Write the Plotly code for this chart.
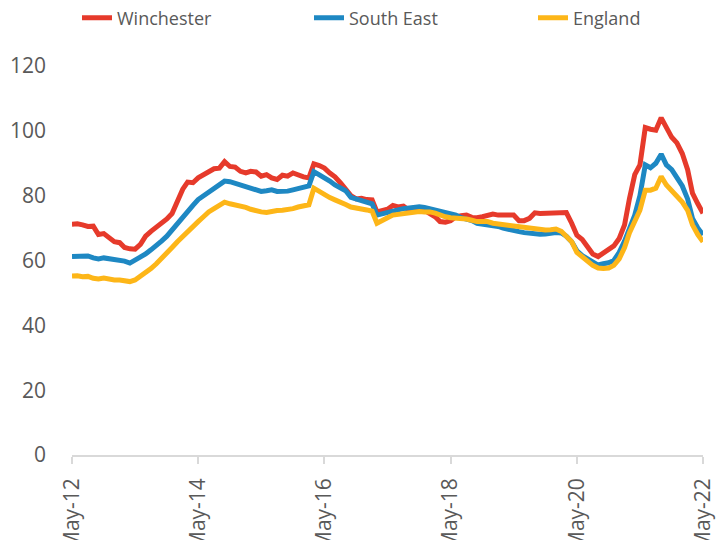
import pandas as pd
import plotly.graph_objects as go

# Monthly dates May-12 .. May-22
months = pd.date_range("2012-05-01", periods=121, freq="MS")
tick_dates = ["2012-05-01", "2014-05-01", "2016-05-01", "2018-05-01", "2020-05-01", "2022-05-01"]
tick_labels = ["May-12", "May-14", "May-16", "May-18", "May-20", "May-22"]
y_ticks = [0, 20, 40, 60, 80, 100, 120]

winchester = [
    71.2, 71.3, 71.0, 70.5, 70.6, 68.0, 68.3, 67.0, 65.8, 65.5,
    64.0, 63.6, 63.5, 65.0, 67.5, 69.0, 70.2, 71.5, 72.8, 74.5,
    78.0, 82.0, 84.2, 84.0, 85.5, 86.5, 87.5, 88.3, 88.5, 90.5,
    89.0, 88.8, 87.5, 87.0, 87.5, 87.3, 86.0, 86.5, 85.5, 85.0,
    86.3, 86.0, 87.0, 86.3, 85.8, 85.5, 89.8, 89.3, 88.5, 87.0,
    85.8, 84.0, 82.0, 80.0, 79.0, 79.2, 78.8, 78.7, 75.0, 75.3,
    75.8, 77.0, 76.5, 76.8, 75.6, 75.8, 76.2, 75.5, 74.7, 73.5,
    72.0, 71.8, 72.3, 73.5, 73.8, 74.0, 73.3, 73.2, 73.5, 74.0,
    74.3, 74.0, 74.0, 73.8, 74.0, 72.3, 72.3, 73.0, 74.7, 74.5,
    74.6, 74.4, 74.7, 74.6, 74.8, 71.5, 67.8, 66.5, 64.0, 62.0,
    61.2, 62.3, 63.8, 64.5, 66.8, 71.0, 79.0, 86.5, 89.5, 101.0,
    100.5, 100.2, 104.0, 101.0, 98.0, 96.3, 93.0, 88.0, 80.8, 77.5,
    74.6,
]
south_east = [
    61.2, 61.3, 61.2, 61.4, 60.8, 60.5, 60.8, 60.6, 60.3, 60.3,
    59.8, 59.2, 60.0, 61.0, 62.0, 63.3, 64.5, 66.0, 67.5, 69.5,
    71.5, 73.5, 75.3, 77.0, 78.8, 80.0, 81.3, 82.3, 83.3, 84.5,
    84.3, 83.8, 83.5, 83.0, 82.5, 82.0, 81.3, 81.5, 81.8, 81.3,
    81.2, 81.4, 81.8, 82.2, 82.5, 83.0, 87.4, 86.5, 85.4, 84.5,
    83.3, 82.5, 81.5, 79.5, 79.0, 78.7, 78.0, 77.5, 74.0, 74.5,
    75.0, 75.3, 75.6, 76.0, 76.2, 76.4, 76.6, 76.4, 76.0, 75.6,
    75.0, 74.6, 74.3, 74.0, 73.2, 72.8, 72.3, 71.5, 71.3, 71.0,
    70.8, 70.5, 70.0, 69.5, 69.0, 68.9, 68.6, 68.4, 68.3, 68.1,
    68.2, 68.5, 68.6, 68.5, 67.5, 65.8, 63.0, 61.5, 60.5, 59.3,
    58.6, 59.0, 59.3, 60.0, 62.5, 66.0, 70.0, 74.0, 80.0, 89.5,
    88.6, 90.0, 92.8, 89.5, 88.0, 85.5, 83.0, 79.0, 73.0, 70.0,
    67.9,
]
england = [
    55.2, 55.3, 55.0, 55.1, 54.5, 54.3, 54.6, 54.2, 54.0, 54.0,
    53.8, 53.5, 54.0, 55.2, 56.0, 57.5, 59.0, 60.5, 62.2, 64.0,
    65.8, 67.5, 69.0, 70.5, 72.0, 73.5, 75.0, 76.0, 77.0, 78.0,
    77.5, 77.2, 76.8, 76.4, 75.8, 75.3, 75.0, 74.8, 75.2, 75.4,
    75.5, 75.6, 76.0, 76.5, 77.0, 77.2, 82.3, 81.2, 80.2, 79.4,
    78.7, 78.2, 77.3, 76.5, 76.0, 75.9, 75.6, 75.2, 71.5, 72.5,
    73.2, 74.0, 74.2, 74.3, 74.8, 75.0, 75.1, 75.0, 75.0, 74.6,
    74.0, 73.5, 73.2, 73.1, 73.0, 72.8, 72.4, 72.0, 72.0, 72.0,
    71.5, 71.3, 71.0, 70.6, 70.5, 70.3, 70.1, 70.0, 69.7, 69.5,
    69.4, 69.5, 69.7, 69.0, 67.5, 65.8, 62.5, 61.0, 59.8, 58.5,
    57.7, 57.5, 57.7, 58.5, 60.5, 64.0, 68.5, 72.5, 75.5, 81.7,
    81.7, 82.3, 85.9, 83.3, 81.5, 79.7, 78.0, 75.5, 71.0, 68.0,
    65.8,
]

series = [
    ("Winchester", winchester, "#E63A2B", "legend"),
    ("South East", south_east, "#1E88C3", "legend2"),
    ("England", england, "#FDB618", "legend3"),
]

fig = go.Figure()
for name, vals, color, leg in series:
    fig.add_trace(go.Scatter(
        x=months, y=vals, name=name, mode="lines",
        line=dict(color=color, width=5),
        legend=leg,
    ))

font_family = "Open Sans"
gray = "#595959"

def legend_box(xpx):
    return dict(
        orientation="h", xref="container", yref="container",
        x=xpx / 724, y=1 - 10 / 540, xanchor="left", yanchor="middle",
        font=dict(family=font_family, size=18, color=gray),
        bgcolor="rgba(0,0,0,0)", borderwidth=0,
    )

fig.update_layout(
    width=724, height=540,
    margin=dict(l=64, r=29, t=58, b=93),
    paper_bgcolor="white", plot_bgcolor="white",
    font=dict(family=font_family, color=gray),
    showlegend=True,
    legend=legend_box(69),
    legend2=legend_box(301),
    legend3=legend_box(525),
    xaxis=dict(
        type="date",
        range=["2012-05-01", "2022-05-01"],
        tickmode="array", tickvals=tick_dates, ticktext=tick_labels,
        tickangle=-90,
        tickfont=dict(family=font_family, size=21, color=gray),
        showgrid=False, zeroline=False,
        showline=True, linecolor="#D9D9D9", linewidth=1.5,
        ticks="outside", ticklen=7, tickcolor="#D9D9D9", tickwidth=1.5,
        ticklabelstandoff=6, automargin=False,
    ),
    yaxis=dict(
        range=[0, 120],
        tickmode="array", tickvals=y_ticks,
        tickfont=dict(family=font_family, size=21, color=gray),
        showgrid=False, zeroline=False, showline=False,
        ticks="", ticklabelstandoff=25, automargin=False,
    ),
)

fig.write_html("out.html")
